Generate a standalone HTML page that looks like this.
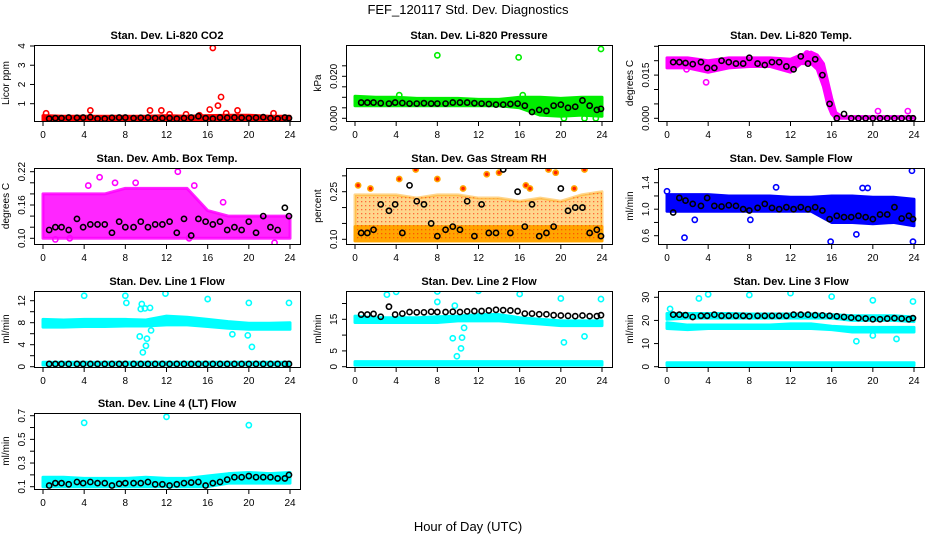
<!DOCTYPE html>
<html><head><meta charset="utf-8"><style>
body{margin:0;background:#fff}
svg{display:block;font-family:"Liberation Sans",sans-serif}
</style></head><body>
<svg id="c" width="936" height="540" viewBox="0 0 936 540">
<text x="468" y="14" text-anchor="middle" font-size="13">FEF_120117  Std. Dev. Diagnostics</text>
<text x="468" y="531" text-anchor="middle" font-size="13">Hour of Day (UTC)</text>
</svg>
<script>
const blackHours=[0.6,1.2,1.8,2.5,3.3,3.9,4.6,5.3,6,6.7,7.4,8,8.8,9.5,10.2,10.9,11.6,12.3,13,13.7,14.4,15.1,15.8,16.5,17.2,17.9,18.6,19.3,20,20.7,21.4,22.1,22.8,23.5,23.9];
const bandHours=[0,2,4,6,8,10,12,14,16,18,20,22,24];
const xTicks=[0,4,8,12,16,20,24];

const co2Black=[0.22,0.25,0.25,0.28,0.27,0.28,0.3,0.22,0.22,0.27,0.28,0.28,0.25,0.27,0.28,0.25,0.25,0.25,0.22,0.25,0.28,0.35,0.25,0.22,0.28,0.27,0.28,0.27,0.25,0.27,0.3,0.25,0.22,0.28,0.25];
const co2Lo=[0.15,0.15,0.15,0.15,0.15,0.15,0.15,0.15,0.15,0.15,0.15,0.15,0.15];
const co2Hi=[0.38,0.35,0.35,0.35,0.35,0.35,0.38,0.35,0.38,0.4,0.4,0.35,0.35];
const co2Out=[[0.3,.5],[4.6,.65],[10.4,.65],[11.5,.65],[12.3,.45],[13.9,.45],[15.2,.4],[16.2,.7],[16.5,3.9],[17,.9],[17.3,1.35],[17.8,.5],[18.9,.65],[22.4,.5]];

const presBlack=[7.5,7.5,7.5,7.2,7,7.5,7.3,7,7,7.2,7,7,7,7.5,7.5,7.5,7.2,7,6.8,6.5,6.5,6.8,7,6,3,4,3.5,6,6.5,5,5.5,8.5,6,4,4.5].map(v=>v/1000);
const presLo=[6,6,6,6,6,6,6,6,5,1.5,1,1.5,1].map(v=>v/1000);
const presHi=[10.5,10,10,9.5,9.5,9.5,9,9,10,10,9.5,10,10].map(v=>v/1000);
const presOut=[[8,.030],[15.9,.029],[23.9,.033],[20.3,0],[22.3,0],[23.4,0],[4.3,.011],[16.3,.011]];

const tempBandHours=[0,2,4,6,8,10,12,13,14,14.6,15.2,15.6,16,16.4,17,24];
const tempBlack=[19.5,19.5,19.2,18.8,19.5,17.5,17.5,20,19.5,19,19,21,19,18.5,19.5,19.5,18,17,21.5,19,20.5,15,5,0,1.5,0,0,0,0,0,0,0,0,0,0].map(v=>v/1000);
const tempLo=[17.5,17.5,16,17.5,18,18,16,19,19,17,11,5,1.5,0,0,0].map(v=>v/1000);
const tempHi=[21,21,20,21,21,21,20.5,22,23,22,19,13,7,2,0.6,0.6].map(v=>v/1000);
const tempOut=[[3.8,.0125],[20.5,.0025],[23.4,.0025],[1.9,.017],[13.6,.0225]];

const ambBlack=[.115,.12,.12,.115,.135,.12,.125,.125,.125,.11,.13,.12,.12,.13,.12,.125,.125,.13,.11,.135,.105,.135,.13,.125,.13,.115,.12,.115,.13,.11,.14,.12,.115,.155,.14];
const ambLo=[.10,.10,.10,.10,.10,.10,.10,.10,.10,.10,.10,.10,.10];
const ambHi=[.18,.18,.18,.18,.19,.19,.19,.19,.15,.14,.14,.14,.14];
const ambOut=[[13.1,.22],[5.5,.21],[9,.20],[7,.20],[4.4,.195],[14.7,.195],[17.5,.165],[22.5,.092],[1.2,.098],[2.6,.10],[14.2,.10]];

const rhBlack=[.12,.12,.13,.21,.19,.21,.12,.27,.22,.21,.15,.11,.13,.14,.13,.22,.11,.21,.12,.12,.32,.12,.25,.14,.21,.11,.12,.14,.26,.19,.20,.20,.12,.13,.11];
const rhLo=[.095,.095,.095,.095,.095,.095,.095,.095,.095,.095,.095,.095,.095];
const rhHi=[.14,.14,.14,.14,.14,.14,.14,.14,.14,.14,.14,.14,.14];
const rhSparseHi=[.24,.24,.24,.23,.24,.24,.23,.23,.22,.23,.22,.24,.25];
const rhOut=[[0.3,.27],[5.9,.32],[14,.31],[18.2,.35],[18.8,.32],[19.5,.31],[4.3,.29],[8,.29],[12.8,.305],[22.3,.32],[16.6,.27],[21.3,.26],[10.5,.26],[1.5,.26],[17,.26]];

const sfBlack=[.95,1.17,1.13,1.08,1.05,1.17,1.05,1.04,1.06,1.05,1.0,.98,1.02,1.08,1.02,1.0,1.03,1.0,1.03,1.0,1.03,.98,.85,.9,.88,.88,.9,.88,.85,.92,.92,1.03,.86,.9,.85];
const sfLo=[.97,.97,.97,.97,.97,.97,.97,.97,.8,.8,.78,.8,.75];
const sfHi=[1.22,1.22,1.22,1.2,1.2,1.2,1.18,1.18,1.2,1.2,1.18,1.18,1.15];
const sfOut=[[10.6,1.33],[15.9,.51],[23.9,.51],[23.8,1.58],[19,1.32],[19.5,1.32],[18.4,.62],[1.7,.57],[2.7,.84],[8.1,.84],[0,1.27]];

const l1Black=[.5,.5,.5,.5,.5,.5,.5,.5,.5,.5,.5,.5,.5,.5,.5,.5,.5,.5,.5,.5,.5,.5,.5,.5,.5,.5,.5,.5,.5,.5,.5,.5,.5,.5,.5];
const l1Lo=[7.2,7.2,7.3,7.3,7.4,7.4,7.6,7.6,7.3,7,6.8,6.8,6.8];
const l1Hi=[8.6,8.5,8.6,8.6,8.6,8.5,9.2,9,8.6,8.2,7.9,7.9,8];
const l1BaseLo=[.3,.3,.3,.3,.3,.3,.3,.3,.3,.3,.3,.3,.3];
const l1BaseHi=[.8,.8,.8,.8,.8,.8,.8,.8,.8,.8,.8,.8,.8];
const l1Out=[[4,12.9],[8,12.9],[8.1,11.6],[11.9,13.3],[16,12.3],[20,11.6],[23.9,11.6],[9.6,11.4],[9.5,10.5],[9.9,10.6],[10.4,10.7],[10.5,6.6],[9.4,5.5],[10.1,5.1],[10,3.8],[9.7,2.6],[20.3,3.6],[19.9,5.7],[18.4,5.9]];

const l2Black=[16.5,16.5,16.7,15.8,19,16.5,16.8,17.3,17.2,17.2,17.4,17.3,17.3,17.4,17.3,17.5,17.6,17.6,17.8,18,17.9,17.8,17.6,16.8,16.8,16.6,16.6,16.3,16.2,16.1,16,16.2,16,16,16.3];
const l2Lo=[14,14,14,14,14,14.5,14.5,14.5,14,13.5,13,13,13];
const l2Hi=[16,15.5,15.5,15.5,15.8,16,16.5,16.5,15.5,15,14.5,14.5,14.5];
const l2BaseLo=[.5,.5,.5,.5,.5,.5,.5,.5,.5,.5,.5,.5,.5];
const l2BaseHi=[1.6,1.6,1.6,1.6,1.6,1.6,1.6,1.6,1.6,1.6,1.6,1.6,1.6];
const l2Out=[[4,23.7],[8,23.8],[8,20.5],[12,24],[16,23],[20,21.6],[23.9,21.4],[3.1,22.8],[9.7,19.3],[9.5,9],[10.4,9.2],[10.3,5.8],[9.9,3.3],[10.6,12.3],[20.3,7.7],[22.3,9.6]];

const l3Black=[22.5,22.5,22.3,21.5,22,22,22.5,22,22,22,22,21.8,22,22,22,22,22,22.5,22.5,22.5,22.3,22.2,22,21.8,21.5,21.2,21,20.8,20.5,20.5,20.8,21,20.8,20.5,21];
const l3Lo=[16.5,16,16.5,16.5,16.5,16.5,16.5,16.5,16,15,15,15,15];
const l3Hi=[19,18,18,18,18,18,18.5,18.5,17.5,17,17,17,17];
const l3UpLo=[20.5,21,21,21,21,21,21,21,21,20,20,20,19.5];
const l3UpHi=[23,23,23,23,22.8,22.8,22.8,22.8,22.5,22,22,22,21.5];
const l3BaseLo=[.5,.5,.5,.5,.5,.5,.5,.5,.5,.5,.5,.5,.5];
const l3BaseHi=[1.7,1.7,1.7,1.7,1.7,1.7,1.7,1.7,1.7,1.7,1.7,1.7,1.7];
const l3Out=[[4,31.3],[8,31],[12,31.8],[16,30.3],[20,28.7],[23.9,28.2],[0.3,25],[3.1,29.5],[18.4,11],[20,13.5],[22.3,12]];

const l4Black=[.11,.13,.13,.12,.14,.13,.14,.13,.13,.11,.125,.13,.13,.13,.14,.12,.12,.11,.12,.13,.135,.14,.11,.13,.14,.16,.18,.18,.19,.18,.18,.18,.17,.17,.2];
const l4Lo=[.1,.1,.1,.1,.1,.1,.1,.1,.1,.13,.13,.13,.13];
const l4Hi=[.18,.18,.17,.17,.17,.18,.17,.17,.19,.21,.22,.21,.22];
const l4Out=[[4,.64],[12,.69],[20,.62]];

const svg=document.getElementById('c');
const NS='http://www.w3.org/2000/svg';
function mk(tag,attrs,parent){const e=document.createElementNS(NS,tag);for(const k in attrs)e.setAttribute(k,attrs[k]);(parent||svg).appendChild(e);return e;}

const panels=[
 {id:'co2',col:0,row:0,title:'Stan. Dev. Li-820 CO2',ylab:'Licor ppm',cal:[1,103.7,4,46],ticks:[1,2,3,4],labels:['1','2','3','4'],color:'#ff0000',bands:[[bandHours,co2Lo,co2Hi,1]],out:co2Out,black:co2Black},
 {id:'pressure',col:1,row:0,title:'Stan. Dev. Li-820 Pressure',ylab:'kPa',cal:[0,118.3,0.025,65.8],ticks:[0,.005,.01,.015,.02,.025],labels:['0.000','','','','0.020',''],color:'#00ee00',bands:[[bandHours,presLo,presHi,1]],out:presOut,black:presBlack},
 {id:'temp',col:2,row:0,title:'Stan. Dev. Li-820 Temp.',ylab:'degrees C',cal:[0,118.3,0.025,46.3],ticks:[0,.005,.01,.015,.02,.025],labels:['0.000','','','0.015','',''],color:'#ff00ff',bands:[[tempBandHours,tempLo,tempHi,1]],out:tempOut,black:tempBlack},
 {id:'amb-box-temp',col:0,row:1,title:'Stan. Dev. Amb. Box Temp.',ylab:'degrees C',cal:[.1,238.3,.22,171.7],ticks:[.1,.12,.14,.16,.18,.2,.22],labels:['0.10','','','0.16','','','0.22'],color:'#ff00ff',bands:[[bandHours,ambLo,ambHi,0.85]],out:ambOut,black:ambBlack},
 {id:'gas-rh',col:1,row:1,title:'Stan. Dev. Gas Stream RH',ylab:'percent',cal:[.1,239.3,.25,191.7],ticks:[.1,.15,.2,.25,.3],labels:['0.10','','','0.25',''],color:'#ffa500',bands:[[bandHours,rhLo,rhSparseHi,0.45],[bandHours,rhLo,rhHi,1]],out:rhOut,black:rhBlack,dot:'#ff2000'},
 {id:'sample-flow',col:2,row:1,title:'Stan. Dev. Sample Flow',ylab:'ml/min',cal:[.6,235.7,1.4,182.7],ticks:[.6,.8,1,1.2,1.4,1.6],labels:['0.6','','1.0','','1.4',''],color:'#0000ff',bands:[[bandHours,sfLo,sfHi,1]],out:sfOut,black:sfBlack},
 {id:'line1-flow',col:0,row:2,title:'Stan. Dev. Line 1 Flow',ylab:'ml/min',cal:[0,366.7,12,300.7],ticks:[0,2,4,6,8,10,12],labels:['0','','4','','8','','12'],color:'#00ffff',bands:[[bandHours,l1Lo,l1Hi,1],[bandHours,l1BaseLo,l1BaseHi,1]],out:l1Out,black:l1Black},
 {id:'line2-flow',col:1,row:2,title:'Stan. Dev. Line 2 Flow',ylab:'ml/min',cal:[0,366.7,15,319.3],ticks:[0,5,10,15,20],labels:['0','5','','15',''],color:'#00ffff',bands:[[bandHours,l2Lo,l2Hi,1],[bandHours,l2BaseLo,l2BaseHi,1]],out:l2Out,black:l2Black},
 {id:'line3-flow',col:2,row:2,title:'Stan. Dev. Line 3 Flow',ylab:'ml/min',cal:[0,366.7,30,297.3],ticks:[0,10,20,30],labels:['0','10','20','30'],color:'#00ffff',bands:[[bandHours,l3Lo,l3Hi,1],[bandHours,l3UpLo,l3UpHi,1],[bandHours,l3BaseLo,l3BaseHi,1]],out:l3Out,black:l3Black},
 {id:'line4-flow',col:0,row:3,title:'Stan. Dev. Line 4 (LT) Flow',ylab:'ml/min',cal:[.1,486.7,.7,415.7],ticks:[.1,.2,.3,.4,.5,.6,.7],labels:['0.1','','0.3','','0.5','','0.7'],color:'#00ffff',bands:[[bandHours,l4Lo,l4Hi,1]],out:l4Out,black:l4Black}
];
const lefts=[34,346,658], tops=[45,168,291,413], W=266, H=76;

panels.forEach(p=>{
  const L=lefts[p.col], T=tops[p.row];
  const g=mk('g',{});
  
  
  const xs=h=>L+9+h/24*247;
  const [v1,p1,v2,p2]=p.cal;
  const ys=v=>p1+(v-v1)*(p2-p1)/(v2-v1);
  const clip='clip-'+p.id;
  const cp=mk('clipPath',{id:clip},g); mk('rect',{x:L,y:T,width:W,height:H},cp);
  const data=mk('g',{'clip-path':'url(#'+clip+')'},g);
  // bands
  p.bands.forEach((b,bi)=>{
    const [bx,lo,hi,op]=b;
    let pts=bx.map((h,i)=>xs(h)+','+ys(hi[i]));
    for(let i=bx.length-1;i>=0;i--)pts.push(xs(bx[i])+','+ys(lo[i]));
    const poly=mk('polygon',{points:pts.join(' '),fill:p.color,stroke:p.color,'stroke-width':3,'stroke-linejoin':'round','fill-opacity':op,'stroke-opacity':op},data);
    
    
  });
  if(p.dot){
    const pat=mk('pattern',{id:'pat-'+p.id,width:4,height:4,patternUnits:'userSpaceOnUse'},g);
    mk('rect',{x:1,y:1,width:1.3,height:1.3,fill:p.dot},pat);
    const b=p.bands[0];
    let pts=b[0].map((h,i)=>xs(h)+','+ys(b[2][i]));
    for(let i=b[0].length-1;i>=0;i--)pts.push(xs(b[0][i])+','+ys(b[1][i]));
    mk('polygon',{points:pts.join(' '),fill:'url(#pat-'+p.id+')','fill-opacity':0.6},data);
  }
  p.out.forEach(o=>{
    const c=mk('circle',{cx:xs(o[0]),cy:ys(o[1]),r:2.6,fill:'none',stroke:p.color,'stroke-width':1.6},data);
    
    
    if(p.dot)c.setAttribute('fill',p.dot);
  });
  p.black.forEach((v,i)=>{
    const c=mk('circle',{cx:xs(blackHours[i]),cy:ys(v),r:2.6,fill:'none',stroke:'#000','stroke-width':1.6},data);
    
    
  });
  // box
  const box=mk('rect',{x:L+0.5,y:T+0.5,width:W,height:H,fill:'none',stroke:'#000','stroke-width':1},g);
  
  
  // x axis
  const B=T+H;
  mk('line',{x1:xs(0),x2:xs(24),y1:B+0.5,y2:B+0.5,stroke:'#000'},g);
  xTicks.forEach(t=>{
    mk('line',{x1:xs(t),x2:xs(t),y1:B,y2:B+5,stroke:'#000'},g);
    const tx=mk('text',{x:xs(t),y:B+17,'text-anchor':'middle','font-size':10},g);
    tx.textContent=t;
    
    
  });
  // y axis
  const yt0=ys(p.ticks[0]), yt1=ys(p.ticks[p.ticks.length-1]);
  mk('line',{x1:L+0.5,x2:L+0.5,y1:yt0,y2:yt1,stroke:'#000'},g);
  p.ticks.forEach((t,i)=>{
    const y=ys(t);
    mk('line',{x1:L-4,x2:L,y1:y,y2:y,stroke:'#000'},g);
    if(p.labels[i]){
      const tx=mk('text',{x:L-9,y:y,'text-anchor':'middle','font-size':10,transform:'rotate(-90 '+(L-9)+' '+y+')'},g);
      tx.textContent=p.labels[i];
      
      
    }
  });
  const yl=mk('text',{x:L-25,y:T+H/2,'text-anchor':'middle','font-size':10,transform:'rotate(-90 '+(L-25)+' '+(T+H/2)+')'},g);
  yl.textContent=p.ylab;
  
  
  const tt=mk('text',{x:L+W/2,y:T-6,'text-anchor':'middle','font-size':11,'font-weight':'bold'},g);
  tt.textContent=p.title;
  
  
});
</script>
</body></html>
